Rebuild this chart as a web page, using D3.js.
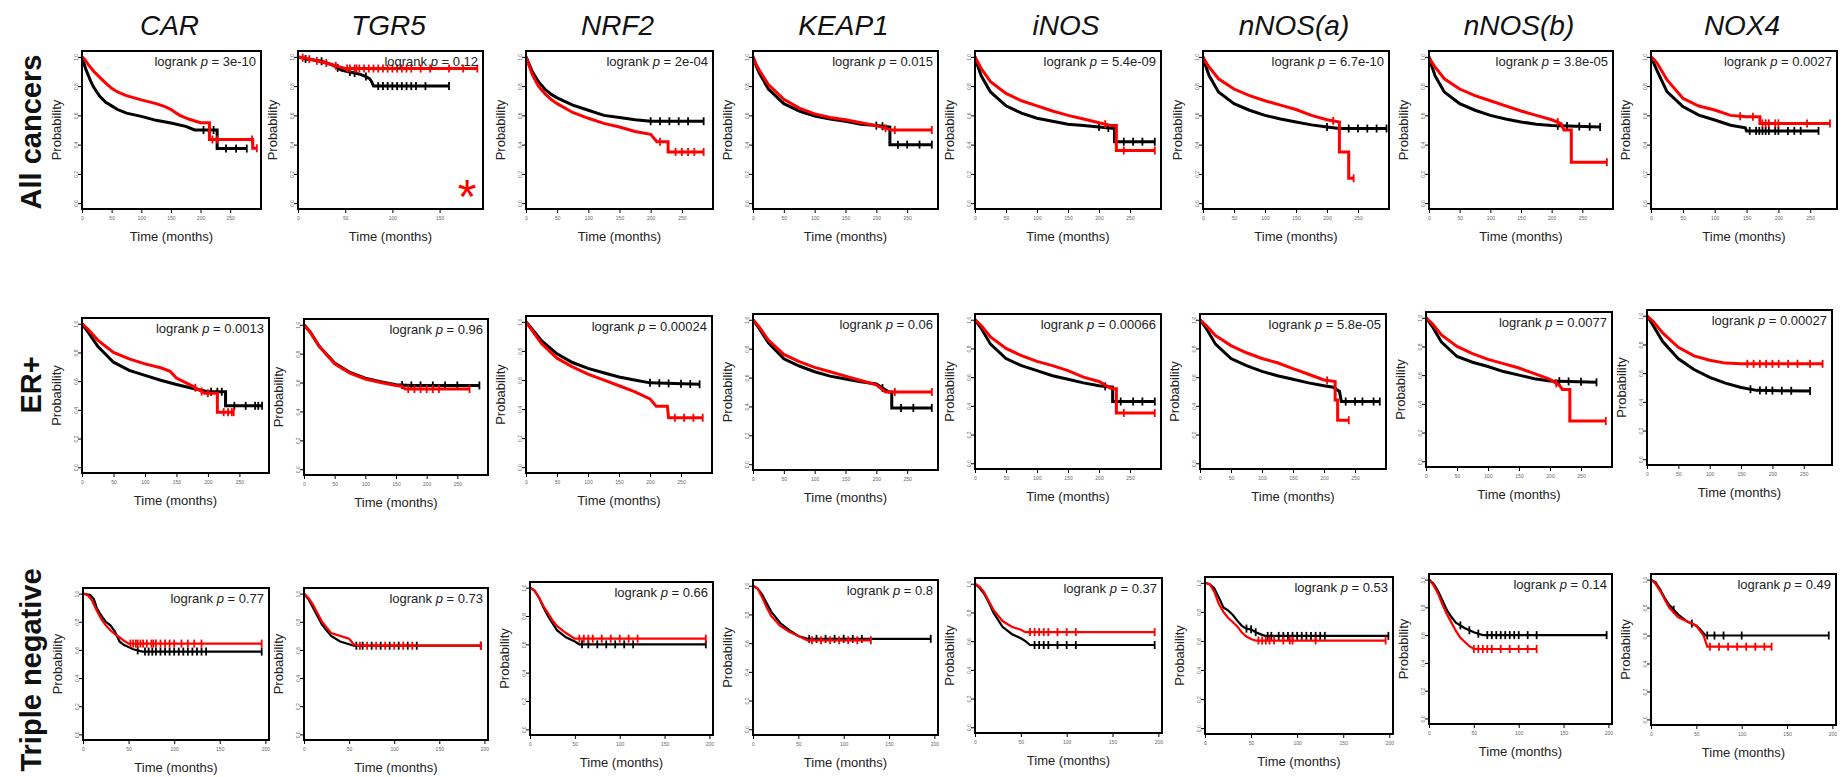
<!DOCTYPE html>
<html><head><meta charset="utf-8">
<script src="https://cdn.jsdelivr.net/npm/d3@7"></script>
<style>
body{margin:0;background:#fff}
svg{display:block}
text{font-family:"Liberation Sans",Arial,Helvetica,sans-serif}
</style>
</head><body>
<svg id="chart" width="1845" height="777"></svg>
<script>
// ---------------- DATA ----------------
const genes = ["CAR","TGR5","NRF2","KEAP1","iNOS","nNOS(a)","nNOS(b)","NOX4"];
const cohorts = ["All cancers","ER+","Triple negative"];
const pAll = ["3e-10","0.12","2e-04","0.015","5.4e-09","6.7e-10","3.8e-05","0.0027"];
const pER  = ["0.0013","0.96","0.00024","0.06","0.00066","5.8e-05","0.0077","0.00027"];
const pTN  = ["0.77","0.73","0.66","0.8","0.37","0.53","0.14","0.49"];
const yTicks = [0,0.2,0.4,0.6,0.8,1.0];
const xTicksLong = [0,50,100,150,200,250];
const xTicksShortTGR5 = [0,50,100,150];
const xTicksTN = [0,50,100,150,200];
const xMaxAll = [302,196,300,300,300,300,300,292];
const xMaxER  = [297,300,300,300,300,300,300,295];
const xMaxTN  = [204,204,204,204,204,204,204,204];

// survival curves [months, probability] — All cancers
const redAll = [
 [[0,1],[5,0.98],[10,0.95],[20,0.9],[30,0.86],[40,0.82],[50,0.785],[60,0.76],[75,0.735],[100,0.706],[125,0.68],[140,0.66],[150,0.64],[165,0.6],[180,0.575],[200,0.55],[215,0.55],[215,0.435],[288,0.435],[288,0.375],[295,0.375]],
 [[0,1],[8,0.99],[15,0.98],[25,0.965],[35,0.95],[42,0.935],[50,0.92],[190,0.92]],
 [[0,1],[5,0.94],[10,0.88],[20,0.8],[30,0.75],[40,0.71],[50,0.68],[75,0.62],[100,0.58],[125,0.545],[150,0.52],[175,0.49],[200,0.47],[210,0.42],[228,0.42],[228,0.35],[285,0.35]],
 [[0,1],[5,0.95],[10,0.91],[25,0.81],[50,0.71],[75,0.65],[100,0.61],[125,0.585],[150,0.57],[175,0.55],[200,0.53],[225,0.5],[290,0.5]],
 [[0,1],[5,0.96],[10,0.92],[25,0.83],[50,0.75],[75,0.7],[100,0.665],[125,0.63],[150,0.6],[175,0.575],[200,0.55],[220,0.53],[228,0.53],[228,0.36],[290,0.36]],
 [[0,1],[5,0.96],[10,0.93],[25,0.85],[50,0.78],[75,0.735],[100,0.7],[125,0.67],[150,0.64],[175,0.6],[200,0.57],[220,0.555],[220,0.35],[235,0.35],[235,0.17],[243,0.17]],
 [[0,1],[5,0.96],[10,0.93],[25,0.85],[50,0.78],[75,0.735],[100,0.7],[125,0.665],[150,0.63],[175,0.6],[200,0.57],[215,0.545],[220,0.5],[232,0.5],[232,0.28],[290,0.28]],
 [[0,1],[5,0.98],[10,0.954],[25,0.844],[50,0.717],[75,0.664],[100,0.637],[125,0.6],[150,0.59],[171,0.59],[171,0.545],[281,0.545]]
];
const blackAll = [
 [[0,1],[3,0.96],[6,0.92],[10,0.88],[15,0.83],[20,0.79],[30,0.73],[40,0.69],[50,0.665],[60,0.64],[75,0.615],[100,0.593],[125,0.566],[150,0.548],[175,0.525],[190,0.5],[228,0.5],[228,0.373],[278,0.373]],
 [[0,1],[8,0.985],[15,0.98],[25,0.97],[32,0.955],[38,0.94],[42,0.925],[46,0.91],[52,0.9],[60,0.89],[66,0.88],[72,0.865],[76,0.85],[78,0.83],[80,0.8],[160,0.8]],
 [[0,1],[5,0.95],[10,0.9],[20,0.83],[30,0.78],[40,0.745],[50,0.72],[75,0.67],[100,0.635],[125,0.6],[150,0.585],[175,0.57],[200,0.56],[285,0.56]],
 [[0,1],[5,0.94],[10,0.89],[25,0.78],[50,0.68],[75,0.63],[100,0.595],[125,0.575],[150,0.56],[175,0.54],[200,0.53],[222,0.52],[222,0.4],[290,0.4]],
 [[0,1],[5,0.93],[10,0.87],[25,0.76],[50,0.665],[75,0.615],[100,0.58],[125,0.56],[150,0.54],[175,0.53],[200,0.52],[225,0.51],[225,0.42],[290,0.42]],
 [[0,1],[5,0.93],[10,0.87],[25,0.76],[50,0.68],[75,0.635],[100,0.6],[125,0.575],[150,0.555],[175,0.535],[200,0.52],[220,0.51],[296,0.51]],
 [[0,1],[5,0.93],[10,0.87],[25,0.76],[50,0.68],[75,0.635],[100,0.6],[125,0.575],[150,0.555],[175,0.54],[200,0.53],[279,0.52]],
 [[0,1],[5,0.95],[10,0.9],[25,0.763],[50,0.66],[75,0.602],[100,0.568],[125,0.533],[148,0.515],[150,0.494],[263,0.494]]
];
const redAllCens = [[220,228,287,295],[5,12,20,30,40,52,55,60,62,65,70,75,80,85,90,95,100,105,110,115,120,130,140,160,175,190],[215,240,250,260,270,285],[215,230,290],[210,240,290],[210,243],[210,290],[140,160,175,180,185,195,200,245,281]];
const blackAllCens = [[205,215,222,243,260,278],[8,25,42,55,60,72,85,90,95,100,105,110,115,120,125,135,160],[200,215,230,245,260,285],[200,210,235,250,270,290],[200,215,240,255,270,290],[200,220,235,250,265,280,296],[210,225,245,262,279],[155,165,170,175,180,185,195,200,215,225,235,263]];

// ER+
const redER = [
 [[0,1],[10,0.96],[25,0.886],[50,0.8],[75,0.755],[100,0.72],[125,0.693],[140,0.668],[150,0.622],[175,0.567],[195,0.515],[215,0.515],[215,0.384],[241,0.384]],
 [[0,1],[10,0.95],[25,0.85],[50,0.73],[75,0.665],[100,0.625],[125,0.6],[150,0.58],[160,0.575],[165,0.555],[270,0.555]],
 [[0,1],[10,0.94],[25,0.85],[50,0.75],[75,0.69],[100,0.64],[125,0.6],[150,0.56],[175,0.52],[200,0.47],[210,0.42],[228,0.42],[230,0.34],[285,0.34]],
 [[0,1],[10,0.95],[25,0.86],[50,0.76],[75,0.71],[100,0.67],[125,0.64],[150,0.61],[175,0.58],[200,0.55],[215,0.5],[290,0.5]],
 [[0,1],[10,0.96],[25,0.88],[50,0.8],[75,0.75],[100,0.71],[125,0.68],[150,0.645],[175,0.6],[200,0.57],[220,0.52],[228,0.52],[228,0.35],[290,0.35]],
 [[0,1],[10,0.96],[25,0.89],[50,0.82],[75,0.77],[100,0.73],[125,0.7],[150,0.66],[175,0.62],[200,0.58],[218,0.57],[218,0.44],[222,0.44],[222,0.3],[240,0.3]],
 [[0,1],[10,0.96],[25,0.88],[50,0.8],[75,0.75],[100,0.71],[125,0.68],[150,0.65],[175,0.61],[200,0.57],[215,0.53],[220,0.5],[232,0.5],[232,0.28],[290,0.28]],
 [[0,1],[10,0.96],[25,0.88],[50,0.78],[75,0.72],[100,0.69],[125,0.67],[150,0.665],[280,0.665]]
];
const blackER = [
 [[0,1],[10,0.94],[25,0.842],[50,0.732],[75,0.675],[100,0.64],[125,0.606],[150,0.577],[175,0.55],[200,0.526],[228,0.526],[228,0.428],[286,0.428]],
 [[0,1],[10,0.95],[25,0.85],[50,0.735],[75,0.67],[100,0.63],[125,0.605],[150,0.585],[175,0.58],[286,0.58]],
 [[0,1],[10,0.95],[25,0.87],[50,0.78],[75,0.72],[100,0.68],[125,0.65],[150,0.62],[175,0.6],[200,0.58],[280,0.57]],
 [[0,1],[10,0.94],[25,0.84],[50,0.73],[75,0.68],[100,0.64],[125,0.61],[150,0.59],[175,0.57],[200,0.555],[220,0.5],[225,0.5],[225,0.39],[290,0.39]],
 [[0,1],[10,0.94],[25,0.83],[50,0.73],[75,0.68],[100,0.645],[125,0.61],[150,0.585],[175,0.56],[200,0.54],[222,0.53],[222,0.43],[290,0.43]],
 [[0,1],[10,0.94],[25,0.83],[50,0.73],[75,0.68],[100,0.64],[125,0.61],[150,0.585],[175,0.56],[200,0.54],[215,0.53],[225,0.5],[228,0.43],[290,0.43]],
 [[0,1],[10,0.94],[25,0.83],[50,0.73],[75,0.69],[100,0.66],[125,0.625],[150,0.6],[175,0.575],[200,0.56],[275,0.55]],
 [[0,1],[10,0.93],[25,0.82],[50,0.7],[75,0.625],[100,0.57],[125,0.53],[150,0.5],[175,0.48],[260,0.475]]
];
const redERCens = [[180,190,200,225,232,238,241],[170,180,190,200,210,220,270],[240,255,270,285],[230,290],[240,290],[205,240],[210,290],[160,170,180,190,200,210,225,240,260,280]];
const blackERCens = [[205,215,222,242,260,275,280,286],[160,175,190,210,230,250,286],[200,215,230,250,265,280],[210,240,260,290],[210,235,255,270,290],[235,250,262,280,290],[215,230,250,275],[165,180,190,200,215,230,260]];

// Triple negative
const redTN = [
 [[0,1],[5,0.99],[10,0.95],[15,0.88],[20,0.82],[25,0.775],[30,0.74],[35,0.712],[40,0.69],[45,0.665],[50,0.645],[196,0.645]],
 [[0,1],[5,0.97],[10,0.92],[15,0.86],[20,0.8],[25,0.76],[30,0.72],[40,0.7],[50,0.68],[55,0.64],[60,0.63],[196,0.63]],
 [[0,1],[5,0.98],[10,0.93],[15,0.87],[20,0.82],[25,0.77],[30,0.73],[40,0.68],[50,0.64],[196,0.64]],
 [[0,1],[5,0.98],[10,0.92],[15,0.85],[20,0.79],[30,0.72],[40,0.68],[50,0.65],[60,0.62],[130,0.62]],
 [[0,1],[5,0.98],[10,0.94],[15,0.88],[20,0.82],[25,0.78],[30,0.74],[40,0.7],[50,0.68],[55,0.663],[196,0.663]],
 [[0,1],[5,0.99],[10,0.94],[15,0.855],[20,0.8],[25,0.76],[30,0.73],[35,0.7],[40,0.658],[45,0.63],[50,0.614],[55,0.603],[196,0.603]],
 [[0,1],[5,0.96],[10,0.9],[15,0.82],[20,0.75],[25,0.69],[30,0.63],[35,0.58],[40,0.55],[45,0.52],[50,0.5],[120,0.5]],
 [[0,1],[5,0.97],[10,0.92],[15,0.86],[20,0.8],[30,0.73],[40,0.7],[50,0.67],[58,0.6],[62,0.52],[133,0.52]]
];
const blackTN = [
 [[0,1],[8,0.99],[12,0.96],[15,0.9],[20,0.845],[25,0.8],[30,0.775],[35,0.73],[40,0.66],[45,0.635],[50,0.62],[55,0.605],[65,0.588],[196,0.588]],
 [[0,1],[5,0.96],[10,0.9],[15,0.84],[20,0.78],[25,0.74],[30,0.7],[40,0.66],[50,0.64],[55,0.63],[196,0.63]],
 [[0,1],[5,0.98],[10,0.93],[15,0.86],[20,0.8],[25,0.75],[30,0.7],[40,0.65],[50,0.62],[55,0.6],[196,0.6]],
 [[0,1],[5,0.98],[10,0.94],[15,0.88],[20,0.82],[30,0.74],[40,0.69],[50,0.65],[60,0.63],[196,0.63]],
 [[0,1],[5,0.97],[10,0.93],[15,0.87],[20,0.8],[25,0.75],[30,0.7],[40,0.65],[50,0.62],[55,0.6],[60,0.573],[196,0.573]],
 [[0,1],[5,0.99],[10,0.963],[15,0.9],[20,0.83],[25,0.81],[30,0.78],[35,0.74],[40,0.704],[45,0.685],[50,0.68],[55,0.66],[60,0.647],[65,0.635],[199,0.635]],
 [[0,1],[5,0.97],[10,0.92],[15,0.85],[20,0.78],[25,0.73],[30,0.69],[40,0.65],[50,0.62],[60,0.6],[198,0.6]],
 [[0,1],[5,0.98],[10,0.93],[15,0.87],[20,0.82],[30,0.75],[40,0.7],[50,0.67],[55,0.64],[60,0.6],[196,0.6]]
];
const redTNCens = [[52,55,58,60,63,66,70,75,77,80,85,90,95,100,108,115,122,130,196],[62,70,80,90,100,110,120,196],[55,60,65,70,80,90,100,110,120,196],[65,75,85,95,105,115,130],[60,65,70,75,80,90,100,110,196],[58,62,66,70,75,85,92,95,120,196],[50,55,60,65,70,80,90,100,110,120],[65,75,85,95,105,115,125,133]];
const blackTNCens = [[60,68,72,76,80,85,90,95,100,105,110,115,120,125,130,135,196],[58,65,75,85,95,105,115,125,196],[58,65,75,85,95,105,115,196],[62,70,80,90,100,110,120,196],[65,70,75,80,90,100,110,196],[45,50,55,68,72,80,85,90,95,100,105,110,115,120,125,130,199],[35,45,55,65,70,75,80,85,90,95,100,110,120,198],[25,45,62,70,80,100,196]];

// ---------------- LAYOUT (pixel boxes: left, right, top, bottom) ----------------
const boxesAll = [[82,261,51,209],[298,483,51,209],[526,713,51,209],[753,938,51,209],[975,1161,51,209],[1203,1389,51,209],[1429,1613,51,209],[1651,1837,51,209]];
const boxesER  = [[82,269,318,473],[304,488,319,475],[526,712,316,473],[753,938,314,470],[975,1161,314,469],[1200,1386,314,469],[1426,1612,312,467],[1647,1832,310,465]];
const boxesTN  = [[83,269,588,740],[304,488,588,740],[530,713,582,735],[753,938,580,735],[975,1162,578,733],[1205,1393,577,734],[1429,1612,574,724],[1651,1836,574,725]];
const rowLabelY = [132,385,670];
const lineW = [3,3,2.2];

const rows = [
  {boxes:boxesAll, xMax:xMaxAll, p:pAll, red:redAll, black:blackAll, redC:redAllCens, blackC:blackAllCens},
  {boxes:boxesER,  xMax:xMaxER,  p:pER,  red:redER,  black:blackER,  redC:redERCens,  blackC:blackERCens},
  {boxes:boxesTN,  xMax:xMaxTN,  p:pTN,  red:redTN,  black:blackTN,  redC:redTNCens,  blackC:blackTNCens}
];

const svg = d3.select("#chart");
const txt = "#222";

genes.forEach((g,i)=>{
  const b = boxesAll[i];
  svg.append("text").attr("x",(b[0]+b[1])/2-2).attr("y",35)
    .attr("text-anchor","middle").attr("font-size",28).attr("font-style","italic")
    .attr("fill","#111").text(g);
});
cohorts.forEach((c,r)=>{
  svg.append("text").attr("transform",`translate(41,${rowLabelY[r]}) rotate(-90)`)
    .attr("text-anchor","middle").attr("font-size",29).attr("font-weight","bold")
    .attr("fill","#111").text(c);
});

function valueAt(curve,t){
  for(let i=0;i<curve.length-1;i++){
    const a=curve[i], b=curve[i+1];
    if(t>=a[0] && t<=b[0] && b[0]>a[0]){
      return a[1]+(b[1]-a[1])*(t-a[0])/(b[0]-a[0]);
    }
  }
  return curve[curve.length-1][1];
}

rows.forEach((row,r)=>{
  genes.forEach((g,i)=>{
    const [L,R,T,B] = row.boxes[i];
    const x = d3.scaleLinear().domain([0,row.xMax[i]]).range([L,R]);
    const y = d3.scaleLinear().domain([-0.04,1.04]).range([B,T]);
    const gp = svg.append("g");

    const xt = r===2 ? xTicksTN : (r===0 && i===1 ? xTicksShortTGR5 : xTicksLong);
    const xa = gp.append("g").attr("transform",`translate(0,${B})`)
      .call(d3.axisBottom(x).tickValues(xt).tickSize(4).tickPadding(3).tickFormat(d3.format("d")));
    xa.select(".domain").remove();
    xa.selectAll("line").attr("stroke","#000").attr("stroke-width",1);
    xa.selectAll("text").attr("font-size",5).attr("fill","#666").attr("font-family","Liberation Sans, Arial");

    const ya = gp.append("g").attr("transform",`translate(${L},0)`)
      .call(d3.axisLeft(y).tickValues(yTicks).tickSize(4).tickFormat(d3.format(".1f")));
    ya.select(".domain").remove();
    ya.selectAll("line").attr("stroke","#000").attr("stroke-width",1);
    ya.selectAll("text").attr("font-size",5).attr("fill","#666").attr("font-family","Liberation Sans, Arial")
      .attr("x",0).attr("dy",0).attr("text-anchor","middle")
      .attr("transform","translate(-4.5,0) rotate(-90)");

    const line = d3.line().x(d=>x(d[0])).y(d=>y(d[1]));
    const series = [
      {c:row.black[i], cens:row.blackC[i], col:"#000"},
      {c:row.red[i],   cens:row.redC[i],   col:"#f00"}
    ];
    series.forEach(s=>{
      gp.append("path").attr("d",line(s.c)).attr("fill","none")
        .attr("stroke",s.col).attr("stroke-width",lineW[r]).attr("stroke-linejoin","miter");
      gp.selectAll(null).data(s.cens).enter().append("line")
        .attr("x1",d=>x(d)).attr("x2",d=>x(d))
        .attr("y1",d=>y(valueAt(s.c,d))-4).attr("y2",d=>y(valueAt(s.c,d))+4)
        .attr("stroke",s.col).attr("stroke-width",1.8);
    });

    gp.append("rect").attr("x",L).attr("y",T).attr("width",R-L).attr("height",B-T)
      .attr("fill","none").attr("stroke","#000").attr("stroke-width",2);

    const lt = gp.append("text").attr("x",R-5).attr("y",T+15).attr("text-anchor","end")
      .attr("font-size",13).attr("fill",txt);
    lt.append("tspan").text("logrank ");
    lt.append("tspan").attr("font-style","italic").text("p");
    lt.append("tspan").text(" = "+row.p[i]);

    gp.append("text").attr("transform",`translate(${L-21},${(T+B)/2}) rotate(-90)`)
      .attr("text-anchor","middle").attr("font-size",13).attr("fill",txt).text("Probability");
    gp.append("text").attr("x",(L+R)/2).attr("y",B+32).attr("text-anchor","middle")
      .attr("font-size",13).attr("fill",txt).text("Time (months)");
  });
});

svg.append("text").attr("x",467).attr("y",213).attr("text-anchor","middle")
  .attr("font-size",48).attr("fill","#f00").text("*");
</script>
</body></html>
